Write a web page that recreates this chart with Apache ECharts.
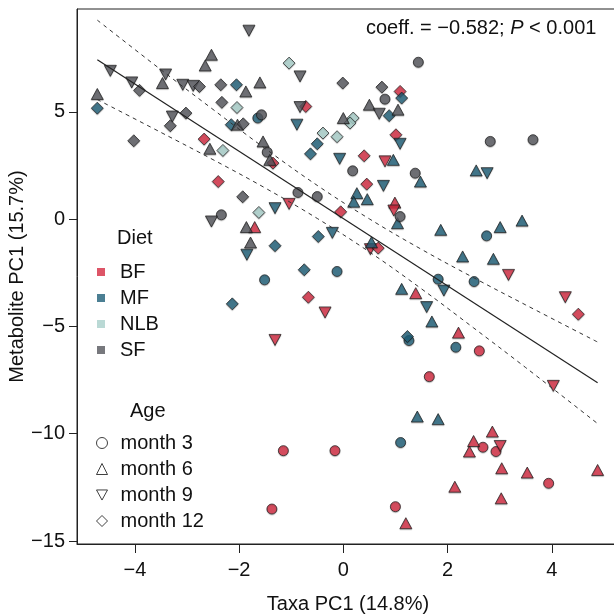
<!DOCTYPE html>
<html><head><meta charset="utf-8">
<script src="https://cdn.jsdelivr.net/npm/echarts@6/dist/echarts.min.js"></script>
<style>html,body{margin:0;padding:0;background:#fff}#c{width:614px;height:616px}</style>
</head><body><div id="c"></div>
<script>
const FONT = '"Liberation Sans", Arial, sans-serif';
const dietNames = ['BF', 'MF', 'NLB', 'SF'];
const ageNames = ['month 3', 'month 6', 'month 9', 'month 12'];
const dietColors = ['#d42a41', '#1e5f78', '#a9cfca', '#55565d'];
const xTicks = [-4, -2, 0, 2, 4];
const yTicks = [-15, -10, -5, 0, 5];

// BF
const bf_m3 = [[-1.15,-10.79],[-0.16,-10.79],[-1.37,-13.51],[1.65,-7.34],[2.61,-6.14],[2.68,-10.63],[2.93,-10.83],[3.94,-12.31],[1.00,-13.40]];
const bf_m6 = [[-1.70,-0.37],[0.99,0.77],[1.39,-3.45],[2.21,-5.29],[2.86,-9.90],[2.50,-10.34],[2.42,-10.83],[3.04,-11.61],[3.53,-11.81],[4.88,-11.69],[2.14,-12.47],[3.03,-13.01],[1.20,-14.17]];
const bf_m9 = [[-1.04,0.71],[0.97,0.40],[0.52,-1.40],[0.80,2.69],[3.17,-2.60],[4.26,-3.64],[4.03,-7.77],[3.01,-10.57],[-0.35,-4.35],[-1.31,-5.63]];
const bf_m12 = [[-0.72,5.25],[-2.67,3.73],[-1.35,2.61],[-2.40,1.75],[1.09,5.95],[1.01,3.93],[0.40,2.95],[0.45,1.63],[-0.05,0.34],[0.67,-1.35],[4.51,-4.43],[-0.67,-3.64]];
// MF
const mf_m3 = [[-1.64,4.71],[2.75,-0.78],[-0.12,-2.44],[1.82,-2.80],[2.51,-2.91],[1.26,-5.66],[2.16,-5.97],[-1.51,-2.83],[1.10,-10.41]];
const mf_m6 = [[0.96,2.76],[1.48,1.75],[2.55,2.27],[0.26,1.21],[0.20,0.81],[0.46,0.93],[1.04,-0.19],[1.87,-0.50],[3.01,-0.37],[3.43,-0.07],[0.54,-1.08],[2.29,-1.74],[2.88,-1.85],[1.12,-3.25],[1.70,-4.77],[1.42,-9.20],[1.82,-9.32]];
const mf_m9 = [[-0.89,4.40],[-0.07,2.81],[1.09,3.51],[0.77,1.55],[2.76,2.14],[-1.31,0.51],[-0.21,-0.64],[-1.85,-1.66],[1.93,-3.33],[1.60,-4.10]];
const mf_m12 = [[-4.72,5.17],[-2.05,6.26],[-2.15,4.40],[1.12,5.64],[0.88,4.82],[-0.50,3.51],[-0.63,3.04],[-0.48,-0.81],[-1.31,-1.24],[-0.75,-2.36],[-2.13,-3.95],[1.23,-5.47]];
// NLB
const nlb_m12 = [[-1.04,7.27],[-2.04,5.20],[-2.31,3.20],[-0.39,4.01],[-0.12,3.84],[0.19,4.71],[0.13,4.48],[-1.62,0.31]];
// SF
const sf_m3 = [[-1.57,4.86],[-1.46,3.12],[-0.87,1.24],[-0.50,1.05],[1.44,7.31],[0.80,5.59],[0.18,2.25],[1.38,2.14],[1.09,0.12],[2.82,3.62],[3.64,3.70],[-2.34,0.20]];
const sf_m6 = [[-4.72,5.83],[-3.47,6.34],[-2.53,7.66],[-2.65,7.16],[-1.87,5.95],[-1.60,6.37],[-2.03,4.40],[-2.56,3.28],[-1.54,3.62],[-1.41,2.76],[0.00,4.71],[0.50,5.33],[1.05,5.10],[-1.86,-0.37],[-1.78,-1.09]];
const sf_m9 = [[-4.47,6.91],[-4.06,6.37],[-3.41,6.74],[-3.08,6.26],[-2.88,6.21],[-3.28,4.78],[-1.81,8.78],[-0.83,6.65],[-0.83,5.22],[0.69,4.91],[-2.53,-0.11]];
const sf_m12 = [[-3.91,6.00],[-4.02,3.65],[-2.76,6.18],[-2.35,6.26],[-2.33,5.44],[-3.02,4.94],[-3.32,4.35],[-1.92,4.44],[-1.93,1.04],[-0.01,6.34],[0.74,6.15]];

// regression line and confidence band
const fitLine = [[-4.72,7.42],[4.88,-7.63]];
const upperBand = [[-4.72,9.27],[-3.5,6.96],[-2.5,5.11],[-1.5,3.29],[-0.5,1.57],[0.5,0.01],[1.5,-1.41],[2.5,-2.73],[3.5,-4.00],[4.88,-5.73]];
const lowerBand = [[-4.72,5.57],[-3.5,4.04],[-2.5,2.77],[-1.5,1.45],[-0.5,0.03],[0.5,-1.53],[1.5,-3.25],[2.5,-5.07],[3.5,-6.92],[4.88,-9.53]];

const groups = [
  ['BF', 0, bf_m3], ['BF', 1, bf_m6], ['BF', 2, bf_m9], ['BF', 3, bf_m12],
  ['MF', 0, mf_m3], ['MF', 1, mf_m6], ['MF', 2, mf_m9], ['MF', 3, mf_m12],
  ['NLB', 3, nlb_m12],
  ['SF', 0, sf_m3], ['SF', 1, sf_m6], ['SF', 2, sf_m9], ['SF', 3, sf_m12]
];
const ageSymbol = ['circle', 'triangle', 'triangle', 'diamond'];
const ageRotate = [0, 0, 180, 0];
const ageSize = [10, [12, 11], [12, 11], [12, 12]];

const series = [];
groups.forEach(([diet, ai, data]) => {
  series.push({
    name: diet + ' ' + ageNames[ai], type: 'scatter', data: data,
    symbol: ageSymbol[ai], symbolRotate: ageRotate[ai], symbolSize: ageSize[ai],
    itemStyle: { color: dietColors[dietNames.indexOf(diet)], borderColor: '#1a1a1a', borderWidth: 0.9,
      shadowColor: 'rgba(0,0,0,0.25)', shadowOffsetY: 1, shadowBlur: 1 },
    z: 3, emphasis: { disabled: true }
  });
});
// legend-only series
dietNames.forEach((d, i) => series.push({ name: d, type: 'scatter', data: [], itemStyle: { color: dietColors[i] } }));
ageNames.forEach(a => series.push({ name: a, type: 'scatter', data: [], itemStyle: { color: '#fff' } }));

const lineCommon = { type: 'line', showSymbol: false, symbol: 'none', silent: true, z: 5 };
series.push(Object.assign({ name: 'fit', data: fitLine, lineStyle: { color: '#222', width: 1.2 } }, lineCommon));
series.push(Object.assign({ name: 'upper', data: upperBand, smooth: 0.4, lineStyle: { color: '#333', width: 1, type: [4, 4] } }, lineCommon));
series.push(Object.assign({ name: 'lower', data: lowerBand, smooth: 0.4, lineStyle: { color: '#333', width: 1, type: [4, 4] } }, lineCommon));

const minus = v => String(v).replace('-', '\u2212');
const txt = { fontFamily: FONT, fontSize: 20, color: '#111' };

const chart = echarts.init(document.getElementById('c'), null, { renderer: 'canvas' });
chart.setOption({
  animation: false,
  backgroundColor: '#fff',
  grid: { left: 77, top: 9, right: -5, bottom: 72, show: true, borderColor: '#222', borderWidth: 1,
    outerBoundsMode: 'none', containLabel: false },
  title: [
    { text: 'coeff. = \u22120.582; {i|P} < 0.001', left: 366, top: 17, padding: 0,
      textStyle: Object.assign({}, txt, { fontWeight: 'normal', lineHeight: 22,
        rich: { i: Object.assign({}, txt, { fontStyle: 'italic', lineHeight: 22 }) } }) },
    { text: 'Diet', left: 117, top: 228, padding: 0, textStyle: Object.assign({}, txt, { fontWeight: 'normal', lineHeight: 20 }) },
    { text: 'Age', left: 130, top: 401, padding: 0, textStyle: Object.assign({}, txt, { fontWeight: 'normal', lineHeight: 20 }) }
  ],
  legend: [
    { orient: 'vertical', left: 97, top: 262, padding: 0, itemGap: 6, itemWidth: 8, itemHeight: 8,
      icon: 'rect', selectedMode: false, data: dietNames,
      itemStyle: { borderWidth: 0 },
      textStyle: Object.assign({}, txt, { lineHeight: 20, padding: [0, 0, 0, 10] }) },
    { orient: 'vertical', left: 96, top: 433, padding: 0, itemGap: 6, itemWidth: 11, itemHeight: 11,
      selectedMode: false,
      data: [
        { name: 'month 3', icon: 'circle' },
        { name: 'month 6', icon: 'triangle' },
        { name: 'month 9', icon: 'path://M0,0L12,0L6,11Z' },
        { name: 'month 12', icon: 'diamond' }
      ],
      itemStyle: { color: '#fff', borderColor: '#111', borderWidth: 1 },
      textStyle: Object.assign({}, txt, { lineHeight: 20, padding: [0, 0, 0, 8] }) }
  ],
  xAxis: {
    type: 'value', min: -5.11, max: 5.29,
    name: 'Taxa PC1 (14.8%)', nameLocation: 'middle', nameGap: 50, nameTextStyle: txt,
    splitLine: { show: false },
    axisLine: { show: true, onZero: false, lineStyle: { color: '#222', width: 1 } },
    axisTick: { show: true, length: 9, customValues: xTicks, lineStyle: { color: '#222' } },
    axisLabel: Object.assign({ customValues: xTicks, margin: 16, formatter: minus }, txt)
  },
  yAxis: {
    type: 'value', min: -15.14, max: 9.79,
    name: 'Metabolite PC1 (15.7%)', nameLocation: 'middle', nameGap: 50, nameMoveOverlap: false,
    nameRotate: 90, nameTextStyle: txt,
    splitLine: { show: false },
    axisLine: { show: true, onZero: false, lineStyle: { color: '#222', width: 1 } },
    axisTick: { show: true, length: 8, customValues: yTicks, lineStyle: { color: '#222' } },
    axisLabel: Object.assign({ customValues: yTicks, margin: 12, formatter: minus }, txt)
  },
  series: series
});
</script></body></html>
